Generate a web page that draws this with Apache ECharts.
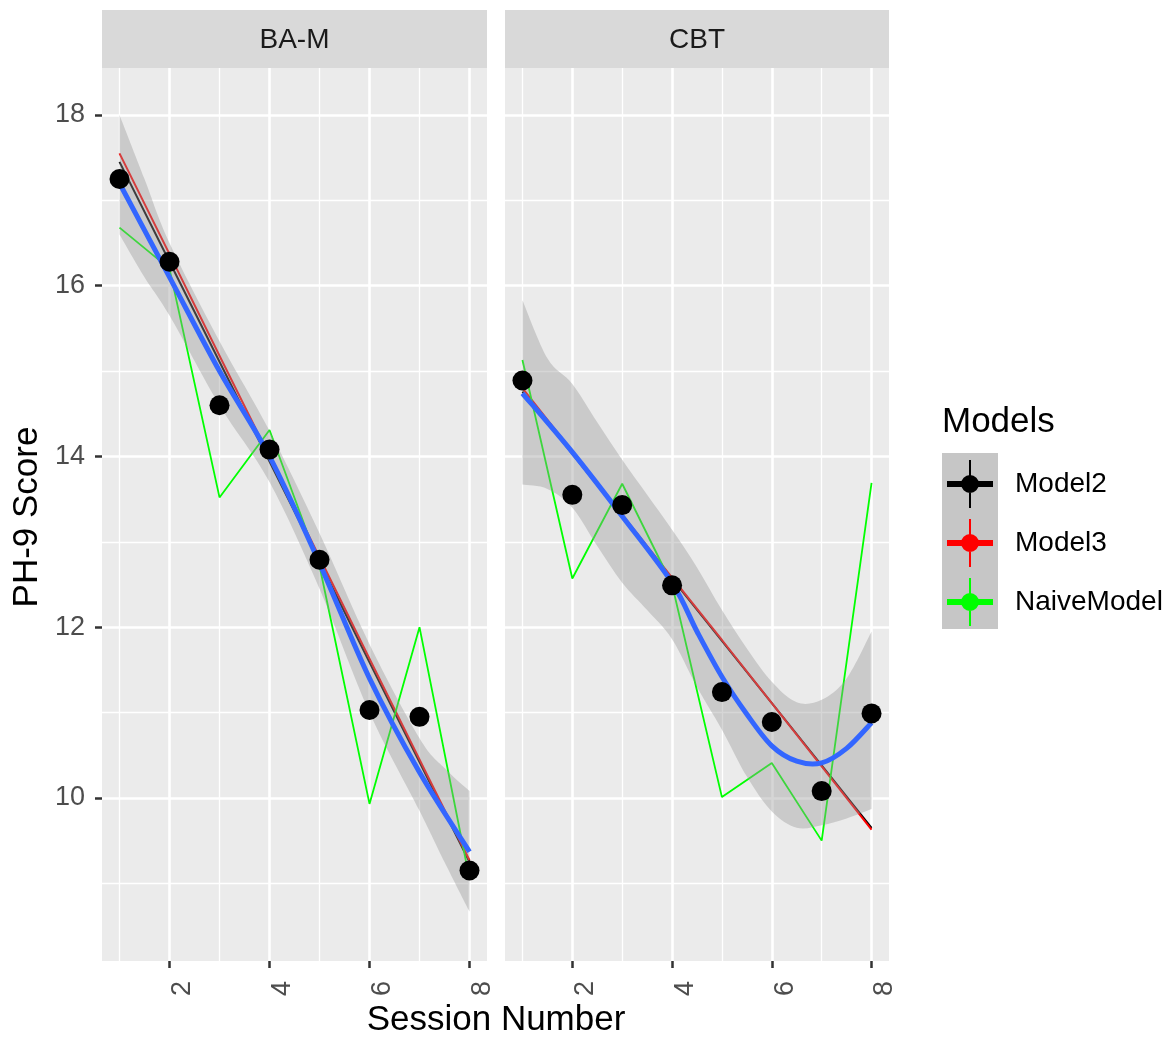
<!DOCTYPE html>
<html><head><meta charset="utf-8">
<script src="https://cdn.jsdelivr.net/npm/echarts@6/dist/echarts.min.js"></script>
<style>html,body{margin:0;padding:0;background:#fff}#chart{width:1172px;height:1037px}</style>
</head><body><div id="chart"></div>
<script>
const sessions = [1,2,3,4,5,6,7,8];
const xTicks = [2,4,6,8];
const xMinor = [1,3,5,7];
const yTicks = [10,12,14,16,18];
const yMinor = [9,11,13,15,17];
const facets = ['BA-M','CBT'];
const modelNames = ['Model2','Model3','NaiveModel'];

const bamObserved = [17.25,16.28,14.60,14.08,12.79,11.03,10.95,9.15];
const bamModel2 = [17.45,16.28,15.11,13.94,12.77,11.59,10.42,9.25];
const bamModel3 = [17.55,16.37,15.18,14.00,12.82,11.63,10.45,9.27];
const bamNaive = [16.68,16.20,13.52,14.31,12.72,9.93,12.00,9.05];
const bamSmoothX = [1,2,3,4,5,6,7,8];
const bamSmooth = [17.20,16.10,15.00,14.00,12.75,11.40,10.30,9.37];
const bamBandX = [1,1.5,2,3,4,5,6,7,7.5,8];
const bamUpper = [18.00,17.25,16.50,15.35,14.30,13.10,11.80,10.70,10.35,10.08];
const bamLower = [16.60,16.10,15.65,14.60,13.70,12.45,11.00,9.85,9.25,8.67];

const cbtObserved = [14.89,13.55,13.43,12.49,11.24,10.89,10.08,10.99];
const cbtModel2 = [14.76,14.03,13.30,12.57,11.84,11.11,10.38,9.65];
const cbtModel3 = [14.80,14.06,13.32,12.58,11.85,11.11,10.37,9.63];
const cbtNaive = [15.13,12.57,13.68,12.50,10.01,10.41,9.50,13.69];
const cbtSmoothX = [1,2,3,4,4.5,5,5.5,6,6.5,7,7.5,8];
const cbtSmooth = [14.74,14.05,13.30,12.52,11.95,11.42,10.98,10.61,10.43,10.41,10.58,10.88];
const cbtBandX = [1,1.5,2,2.5,3,3.5,4,4.5,5,5.5,6,6.5,7,7.5,8];
const cbtUpper = [15.83,15.15,14.85,14.40,13.96,13.55,13.14,12.70,12.20,11.75,11.36,11.12,11.15,11.40,11.95];
const cbtLower = [13.67,13.62,13.40,12.95,12.52,12.20,11.86,11.30,10.80,10.25,9.84,9.65,9.68,9.76,9.87];

const FONT = 'Liberation Sans, Arial, Helvetica, sans-serif';
const modelColors = {Model2:'#000000', Model3:'#ff0000', NaiveModel:'#00ff00'};
const legendIcon = 'path://M0,21H46V27H0Z M22,0H24V48H22Z M14,24A9,9,0,1,1,32,24A9,9,0,1,1,14,24Z';

const panels = [
  {obs:bamObserved, m2:bamModel2, m3:bamModel3, naive:bamNaive, sx:bamSmoothX, s:bamSmooth, bx:bamBandX, up:bamUpper, lo:bamLower},
  {obs:cbtObserved, m2:cbtModel2, m3:cbtModel3, naive:cbtNaive, sx:cbtSmoothX, s:cbtSmooth, bx:cbtBandX, up:cbtUpper, lo:cbtLower}
];

const pair = (xs, ys) => xs.map((x,i)=>[x, ys[i]]);

// Catmull-Rom spline through pixel points -> SVG path segments
function splineSegs(pts, start) {
  let d = start ? ('M' + pts[0][0] + ',' + pts[0][1]) : ('L' + pts[0][0] + ',' + pts[0][1]);
  for (let i = 0; i < pts.length - 1; i++) {
    const p0 = pts[i-1] || pts[i], p1 = pts[i], p2 = pts[i+1], p3 = pts[i+2] || pts[i+1];
    const c1 = [p1[0] + (p2[0]-p0[0])/6, p1[1] + (p2[1]-p0[1])/6];
    const c2 = [p2[0] - (p3[0]-p1[0])/6, p2[1] - (p3[1]-p1[1])/6];
    d += 'C' + c1[0] + ',' + c1[1] + ',' + c2[0] + ',' + c2[1] + ',' + p2[0] + ',' + p2[1];
  }
  return d;
}

const grids = [
  {left:102, top:68, width:385, height:893},
  {left:505, top:68, width:384, height:893}
].map(g => Object.assign(g, {show:true, backgroundColor:'#ebebeb', borderWidth:0, containLabel:false}));

const xAxes = grids.map((g,i)=>({
  type:'value', gridIndex:i, min:0.65, max:8.35,
  axisLine:{show:false},
  splitLine:{show:false},
  axisTick:{show:true, customValues:xTicks, length:7, lineStyle:{color:'#333333', width:2.5}},
  axisLabel:{show:true, customValues:xTicks, rotate:90, margin:20, fontSize:27, color:'#4d4d4d', fontFamily:FONT, verticalAlign:'top'}
}));
const yAxes = grids.map((g,i)=>({
  type:'value', gridIndex:i, min:8.09, max:18.55,
  axisLine:{show:false},
  splitLine:{show:false},
  axisTick:{show:i===0, customValues:yTicks, length:7, lineStyle:{color:'#333333', width:2.5}},
  axisLabel:{show:i===0, customValues:yTicks, margin:17, fontSize:27, color:'#4d4d4d', fontFamily:FONT}
}));

const series = [];
panels.forEach((p, i) => {
  const gridLines = [];
  xMinor.forEach(v => gridLines.push({xAxis:v, lineStyle:{color:'#ffffff', width:1.3, type:'solid'}}));
  yMinor.forEach(v => gridLines.push({yAxis:v, lineStyle:{color:'#ffffff', width:1.3, type:'solid'}}));
  xTicks.forEach(v => gridLines.push({xAxis:v, lineStyle:{color:'#ffffff', width:2.6, type:'solid'}}));
  yTicks.forEach(v => gridLines.push({yAxis:v, lineStyle:{color:'#ffffff', width:2.6, type:'solid'}}));
  series.push({
    type:'line', name:'grid'+i, xAxisIndex:i, yAxisIndex:i, data:[], z:1, silent:true,
    markLine:{silent:true, z:1, symbol:['none','none'], label:{show:false}, animation:false, data:gridLines}
  });
  series.push({type:'line', name:'Model2', xAxisIndex:i, yAxisIndex:i, data:pair(sessions,p.m2), symbol:'none', z:2,
    lineStyle:{color:modelColors.Model2, width:2}, itemStyle:{color:modelColors.Model2}});
  series.push({type:'line', name:'Model3', xAxisIndex:i, yAxisIndex:i, data:pair(sessions,p.m3), symbol:'none', z:3,
    lineStyle:{color:modelColors.Model3, width:2}, itemStyle:{color:modelColors.Model3}});
  series.push({type:'line', name:'NaiveModel', xAxisIndex:i, yAxisIndex:i, data:pair(sessions,p.naive), symbol:'none', z:4,
    lineStyle:{color:modelColors.NaiveModel, width:1.8}, itemStyle:{color:modelColors.NaiveModel}});
  // confidence ribbon of the loess smooth
  series.push({
    type:'custom', name:'band'+i, xAxisIndex:i, yAxisIndex:i, z:5, silent:true,
    data:p.bx.map((x,k)=>[x, p.lo[k], p.up[k]]),
    encode:{x:0, y:[1,2]},
    renderItem:(params, api) => {
      if (params.dataIndex !== 0) return null;
      const up = p.bx.map((x,k)=>api.coord([x, p.up[k]]));
      const lo = p.bx.map((x,k)=>api.coord([x, p.lo[k]])).reverse();
      const d = splineSegs(up, true) + splineSegs(lo, false) + 'Z';
      return {type:'path', shape:{pathData:d}, style:{fill:'rgba(153,153,153,0.4)', stroke:null}};
    }
  });
  // loess smooth line
  series.push({
    type:'custom', name:'smooth'+i, xAxisIndex:i, yAxisIndex:i, z:6, silent:true,
    data:pair(p.sx, p.s), encode:{x:0, y:1},
    renderItem:(params, api) => {
      if (params.dataIndex !== 0) return null;
      const pts = p.sx.map((x,k)=>api.coord([x, p.s[k]]));
      return {type:'path', shape:{pathData:splineSegs(pts, true)}, style:{fill:'none', stroke:'#3366ff', lineWidth:5, lineCap:'butt'}};
    }
  });
  series.push({type:'scatter', name:'Model2', xAxisIndex:i, yAxisIndex:i, data:pair(sessions,p.obs), symbol:'circle', symbolSize:20, z:7,
    itemStyle:{color:'#000000', opacity:1}});
});

const txt = (text, x, y, size, color, rot) => ({
  type:'text', x:x, y:y, rotation:rot||0, z:10,
  style:{text:text, fontSize:size, fontFamily:FONT, fill:color, align:'center', verticalAlign:'middle', textAlign:'center', textVerticalAlign:'middle'}
});

const graphic = [
  {type:'rect', shape:{x:102, y:10, width:385, height:58}, style:{fill:'#d9d9d9'}, z:0},
  {type:'rect', shape:{x:505, y:10, width:384, height:58}, style:{fill:'#d9d9d9'}, z:0},
  txt(facets[0], 294.5, 40, 28, '#1a1a1a'),
  txt(facets[1], 697, 40, 28, '#1a1a1a'),
  txt('PH-9 Score', 27, 517, 35, '#000000', Math.PI/2),
  txt('Session Number', 496, 1020, 35, '#000000'),
  {type:'text', x:942, y:422, z:10, style:{text:'Models', fontSize:35, fontFamily:FONT, fill:'#000000', align:'left', verticalAlign:'middle', textAlign:'left', textVerticalAlign:'middle'}},
  {type:'rect', shape:{x:942, y:453, width:56, height:176}, style:{fill:'#c6c6c6'}, z:0}
];

const option = {
  animation:false,
  backgroundColor:'#ffffff',
  grid:grids, xAxis:xAxes, yAxis:yAxes,
  legend:{
    orient:'vertical', left:942, top:455, itemWidth:80, itemHeight:48, itemGap:11,
    icon:legendIcon, selectedMode:false, z:5,
    textStyle:{fontSize:28, color:'#000000', fontFamily:FONT},
    data:modelNames.map(n=>({name:n, icon:legendIcon, itemStyle:{color:modelColors[n], borderWidth:0}}))
  },
  graphic:graphic,
  series:series
};
const chart = echarts.init(document.getElementById('chart'), null, {renderer:'canvas'});
chart.setOption(option);
</script></body></html>
